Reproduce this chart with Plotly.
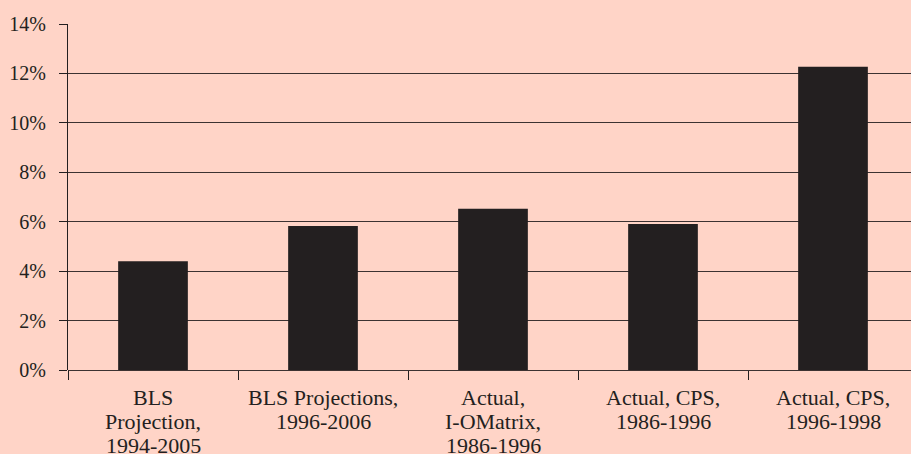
import plotly.graph_objects as go

categories = [
    "BLS<br>Projection,<br>1994-2005",
    "BLS Projections,<br>1996-2006",
    "Actual,<br>I-OMatrix,<br>1986-1996",
    "Actual, CPS,<br>1986-1996",
    "Actual, CPS,<br>1996-1998",
]
values = [4.4, 5.83, 6.52, 5.91, 12.27]
ytick_vals = [0, 2, 4, 6, 8, 10, 12, 14]
ytick_text = ["0%", "2%", "4%", "6%", "8%", "10%", "12%", "14%"]

bg = "#FFD4C7"
ink = "#231F20"
family = "Liberation Serif, Times New Roman, serif"

xr = [-0.5, -0.5 + (911 - 68) / 170.0]

fig = go.Figure(go.Bar(
    x=list(range(len(categories))),
    y=values,
    width=0.41,
    marker=dict(color=ink, line=dict(width=0)),
    hoverinfo="skip",
))

fig.update_layout(
    width=911, height=454,
    paper_bgcolor=bg, plot_bgcolor=bg,
    margin=dict(l=68, r=0, t=24, b=84),
    font=dict(family=family, size=20, color=ink),
    showlegend=False,
    xaxis=dict(
        range=xr,
        tickmode="array",
        tickvals=[-0.5 + i for i in range(len(categories) + 1)],
        ticktext=[""] * (len(categories) + 1),
        ticks="outside", ticklen=9, tickwidth=1, tickcolor=ink,
        showgrid=False, zeroline=False, showline=False,
        fixedrange=True,
    ),
    yaxis=dict(
        range=[0, 14],
        tickmode="array",
        tickvals=ytick_vals,
        ticktext=ytick_text,
        showgrid=True, gridcolor="#3C3232", gridwidth=1,
        showline=True, linecolor=ink, linewidth=1,
        ticks="outside", ticklen=8, tickcolor=ink,
        zeroline=True, zerolinecolor="#3C3232", zerolinewidth=1,
        ticklabelstandoff=9,
        tickfont=dict(size=20),
        fixedrange=True,
    ),
)

# category labels, one annotation per line for tighter line spacing
line_gap = 24
for i, lab in enumerate(categories):
    for k, part in enumerate(lab.split("<br>")):
        fig.add_annotation(
            x=i, xref="x", y=0, yref="paper",
            text=part, showarrow=False,
            xanchor="center", yanchor="top",
            yshift=-(13 + k * line_gap),
            font=dict(family=family, size=22, color=ink),
        )

fig.write_html(
    "out.html",
    config={"displayModeBar": False},
    post_script="document.body.style.margin='0px';",
)
